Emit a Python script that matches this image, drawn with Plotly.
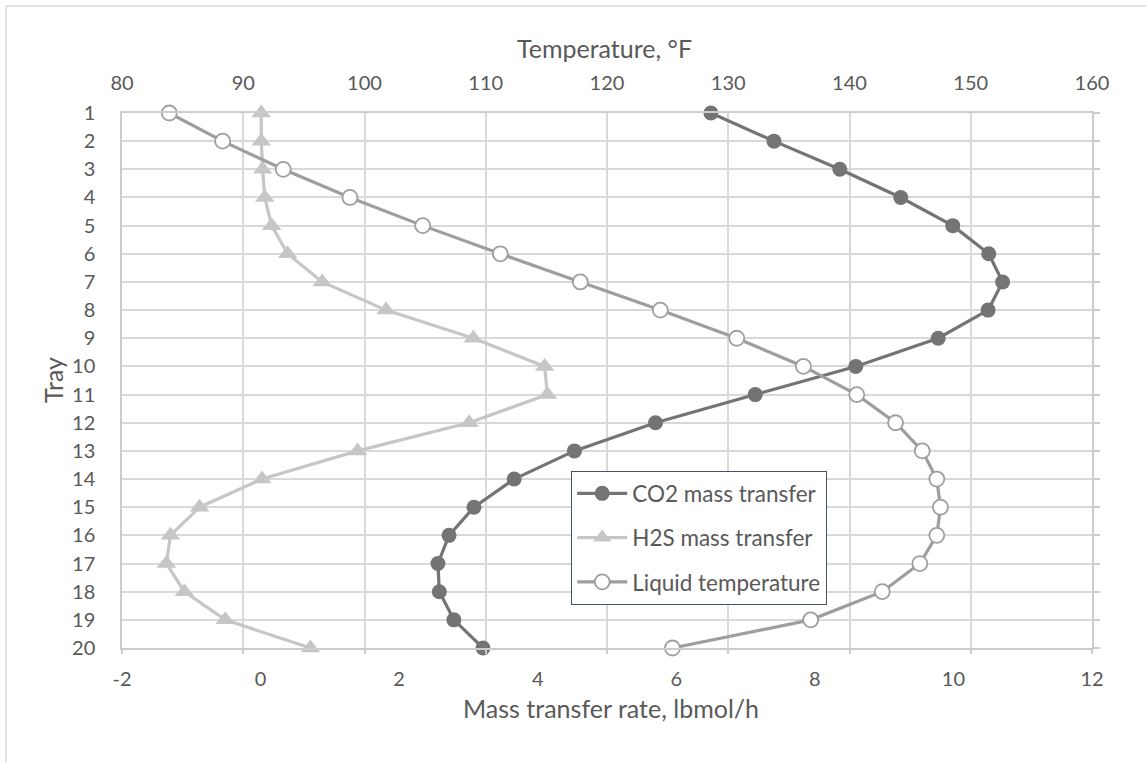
import plotly.graph_objects as go

trays = list(range(1, 21))
co2_rate = [6.50, 7.41, 8.36, 9.24, 9.99, 10.51, 10.71, 10.50, 9.78, 8.59,
            7.14, 5.70, 4.53, 3.66, 3.08, 2.72, 2.56, 2.58, 2.79, 3.21]
h2s_rate = [0.01, 0.01, 0.03, 0.06, 0.16, 0.39, 0.89, 1.81, 3.07, 4.10,
            4.14, 3.01, 1.40, 0.02, -0.88, -1.30, -1.36, -1.10, -0.51, 0.72]
liquid_temp = [83.9, 88.3, 93.3, 98.8, 104.8, 111.2, 117.8, 124.4, 130.7, 136.2,
               140.6, 143.8, 146.0, 147.2, 147.5, 147.2, 145.8, 142.7, 136.8, 125.4]

mass_ticks = [-2, 0, 2, 4, 6, 8, 10, 12]
mass_labels = ["-2", "0", "2", "4", "6", "8", "10", "12"]
temp_ticks = [80, 90, 100, 110, 120, 130, 140, 150, 160]

FONT = "Lato"
TXT = "#595959"
GRID = "#d9d9d9"
AXL = "#cccccc"

W, H = 1146, 762
L, R, T, B = 122, 1092, 113, 648


def px(x):
    return (x - L) / (R - L)


def py(y):
    return (B - y) / (B - T)


fig = go.Figure()
fig.add_trace(go.Scatter(
    x=co2_rate, y=trays, name="CO2 mass transfer", mode="lines+markers",
    line=dict(color="#747474", width=3.2),
    marker=dict(symbol="circle", size=15, color="#747474"),
    cliponaxis=False, legendgroup="a", xaxis="x", yaxis="y"))
fig.add_trace(go.Scatter(
    x=h2s_rate, y=trays, name="H2S mass transfer", mode="lines+markers",
    line=dict(color="#c6c6c6", width=3.2),
    marker=dict(symbol="triangle-up", size=17, color="#c6c6c6"),
    cliponaxis=False, legendgroup="b", xaxis="x", yaxis="y"))
fig.add_trace(go.Scatter(
    x=liquid_temp, y=trays, name="Liquid temperature", mode="lines+markers",
    line=dict(color="#9e9e9e", width=3.2),
    marker=dict(symbol="circle", size=15, color="white",
                line=dict(color="#9e9e9e", width=1.8)),
    cliponaxis=False, legendgroup="c", xaxis="x2", yaxis="y"))

tickfont = dict(family=FONT, size=20, color=TXT)

fig.update_layout(
    width=W, height=H,
    margin=dict(l=L, r=W - R, t=T, b=H - B),
    paper_bgcolor="white", plot_bgcolor="white",
    font=dict(family=FONT, color=TXT),
    showlegend=True,
    legend=dict(x=px(571), y=py(471), xanchor="left", yanchor="top",
                bgcolor="white", bordercolor="#44546a", borderwidth=1.2,
                font=dict(family=FONT, size=22.5, color=TXT),
                tracegroupgap=12, itemwidth=50),
    xaxis=dict(range=[-2, 12], tickvals=mass_ticks, ticktext=mass_labels,
               showgrid=False, zeroline=False, showline=True, linecolor=AXL,
               linewidth=1.5, ticks="", tickfont=tickfont,
               ticklabelstandoff=12),
    xaxis2=dict(range=[80, 160], tickvals=temp_ticks, overlaying="x",
                side="top", anchor="y", showgrid=True, gridcolor=GRID,
                gridwidth=1.5, zeroline=False, showline=True, linecolor=AXL,
                linewidth=1.5, ticks="", tickfont=tickfont,
                ticklabelstandoff=13),
    xaxis3=dict(range=[0, 8], tickvals=list(range(9)), overlaying="x",
                side="bottom", anchor="y", showgrid=False, zeroline=False,
                showline=False, ticks="outside", ticklen=5, tickwidth=1.5,
                tickcolor=AXL, showticklabels=False),
    yaxis=dict(range=[20, 1], tickvals=trays, showgrid=True, gridcolor=GRID,
               gridwidth=1.5, zeroline=False, showline=True, linecolor=AXL,
               linewidth=1.5, ticks="", tickfont=tickfont,
               ticklabelstandoff=21),
    yaxis2=dict(range=[20, 1], tickvals=trays, overlaying="y", side="right",
                anchor="x", showgrid=False, zeroline=False, showline=True,
                linecolor=AXL, linewidth=1.5, ticks="outside", ticklen=6,
                tickwidth=1.5, tickcolor=AXL, showticklabels=False),
)

# helper trace so the extra tick axes render
fig.add_trace(go.Scatter(x=[None], y=[None], xaxis="x3", yaxis="y2",
                         showlegend=False, hoverinfo="skip"))

title_font = dict(family=FONT, size=25, color=TXT)
fig.add_annotation(text="Temperature, °F", x=px(604), y=py(48),
                   xref="paper", yref="paper", showarrow=False,
                   font=title_font, xanchor="center", yanchor="middle")
fig.add_annotation(text="Mass transfer rate, lbmol/h", x=px(611), y=py(708),
                   xref="paper", yref="paper", showarrow=False,
                   font=title_font, xanchor="center", yanchor="middle")
fig.add_annotation(text="Tray", x=px(53), y=py(380), textangle=-90,
                   xref="paper", yref="paper", showarrow=False,
                   font=title_font, xanchor="center", yanchor="middle")

# outer chart border (top and left edges visible)
fig.add_shape(type="line", xref="paper", yref="paper",
              x0=px(6), y0=py(6), x1=px(W + 5), y1=py(6),
              line=dict(color="#d9d9d9", width=1.5))
fig.add_shape(type="line", xref="paper", yref="paper",
              x0=px(6), y0=py(6), x1=px(6), y1=py(H + 5),
              line=dict(color="#d9d9d9", width=1.5))

fig.write_html("out.html")
